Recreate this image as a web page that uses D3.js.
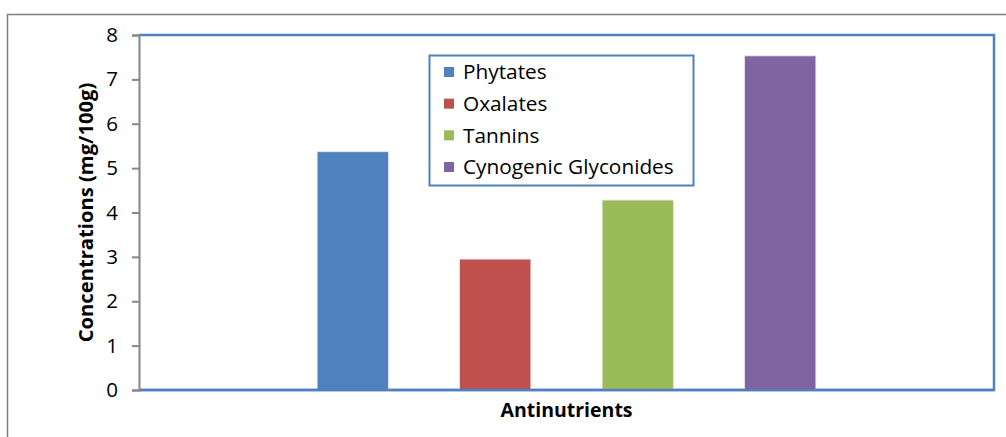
<!DOCTYPE html>
<html>
<head>
<meta charset="utf-8">
<script src="https://cdn.jsdelivr.net/npm/d3@7"></script>
<style>
  html, body { margin: 0; padding: 0; background: #fff; }
  svg { display: block; }
  text { font-family: "Open Sans", Lato, sans-serif; fill: #000; }
</style>
</head>
<body>
<svg id="chart" width="1006" height="437"></svg>
<script>
// Antinutrient concentrations (mg/100g)
const series = ["Phytates", "Oxalates", "Tannins", "Cynogenic Glyconides"];
const values = [5.37, 2.95, 4.28, 7.53];
const colors = ["#4F81BD", "#C0504D", "#9BBB59", "#8064A2"];
const yTicks = [0, 1, 2, 3, 4, 5, 6, 7, 8];
const xTitle = "Antinutrients";
const yTitle = "Concentrations (mg/100g)";

const svg = d3.select("#chart");
const plot = { left: 139, right: 994, top: 35, bottom: 390 };

// Outer chart frame
svg.append("rect")
  .attr("x", 7.5).attr("y", 14.5)
  .attr("width", 1020).attr("height", 440)
  .attr("fill", "none").attr("stroke", "#7f7f7f").attr("stroke-width", 1.5);

const x = d3.scaleBand()
  .domain(series)
  .range([plot.left, plot.right])
  .paddingInner(0.5)
  .paddingOuter(1.25);

const y = d3.scaleLinear()
  .domain([0, 8])
  .range([plot.bottom, plot.top]);

// Plot area border (top, right, bottom)
svg.append("path")
  .attr("d", `M${plot.left},${plot.top}H${plot.right}V${plot.bottom}H${plot.left}`)
  .attr("fill", "none").attr("stroke", "#4F81BD").attr("stroke-width", 2.5);

// Bars
svg.append("g").selectAll("rect")
  .data(series)
  .join("rect")
  .attr("x", d => x(d))
  .attr("width", x.bandwidth())
  .attr("y", (d, i) => y(values[i]))
  .attr("height", (d, i) => y(0) - y(values[i]))
  .attr("fill", (d, i) => colors[i])
  .attr("stroke", "#e6e6ef").attr("stroke-width", 0.8);

// Baseline drawn over bars
svg.append("line")
  .attr("x1", plot.left).attr("x2", plot.right)
  .attr("y1", plot.bottom).attr("y2", plot.bottom)
  .attr("stroke", "#4F81BD").attr("stroke-width", 2.5);

// Y axis
const yAxis = svg.append("g")
  .attr("transform", `translate(${plot.left},0)`)
  .call(d3.axisLeft(y).tickValues(yTicks).tickFormat(d3.format("d")).tickSize(7).tickPadding(14));
yAxis.select(".domain").attr("stroke", "#868686").attr("stroke-width", 2);
yAxis.selectAll(".tick line").attr("stroke", "#868686").attr("stroke-width", 2);
yAxis.selectAll(".tick text")
  .attr("font-size", 20.5)
  .attr("font-family", "\"Open Sans\", sans-serif")
  .attr("fill", "#000");

// Axis titles
svg.append("text")
  .attr("transform", `translate(93,${(plot.top + plot.bottom) / 2}) rotate(-90)`)
  .attr("text-anchor", "middle")
  .attr("font-size", 20.2).attr("font-weight", "bold")
  .text(yTitle);

svg.append("text")
  .attr("x", (plot.left + plot.right) / 2).attr("y", 417)
  .attr("text-anchor", "middle")
  .attr("font-size", 19.5).attr("font-weight", "bold")
  .text(xTitle);

// Legend
const legend = svg.append("g");
legend.append("rect")
  .attr("x", 429.5).attr("y", 55.5)
  .attr("width", 264).attr("height", 130)
  .attr("fill", "#fff").attr("stroke", "#4F81BD").attr("stroke-width", 2);

const rowY = d3.scalePoint().domain(series).range([72, 167]);
const items = legend.selectAll("g.item")
  .data(series)
  .join("g")
  .attr("class", "item")
  .attr("transform", d => `translate(444,${rowY(d)})`);
items.append("rect")
  .attr("x", 0).attr("y", -5).attr("width", 10).attr("height", 10)
  .attr("fill", (d, i) => colors[i]);
items.append("text")
  .attr("x", 19).attr("y", 0)
  .attr("dy", "0.35em")
  .attr("font-size", 20.8)
  .text(d => d);
</script>
</body>
</html>
